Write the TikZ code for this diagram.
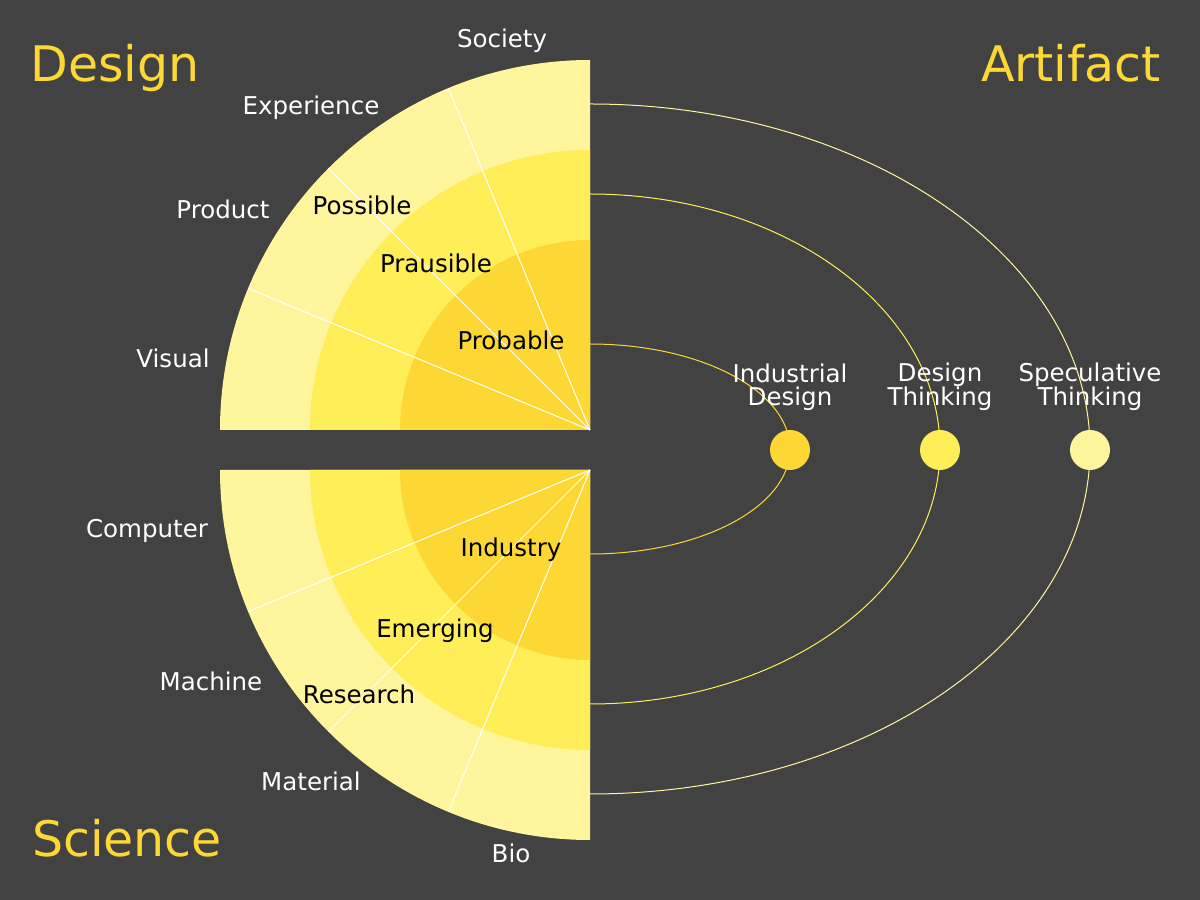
\documentclass[tikz,border=0pt]{standalone}
\usepackage{fontspec}
\setmainfont{DejaVu Sans}
\definecolor{bg}{HTML}{424242}
\definecolor{ringout}{HTML}{FFF59D}
\definecolor{ringmid}{HTML}{FFEE58}
\definecolor{ringin}{HTML}{FDD835}
\begin{document}
\begin{tikzpicture}[x=1pt,y=1pt,
  title/.style={text=ringin, font=\fontsize{49}{49}\selectfont, inner sep=0pt, anchor=base},
  outlabel/.style={text=white, font=\fontsize{24.5}{24.5}\selectfont, inner sep=0pt, anchor=base},
  inlabel/.style={text=black, font=\fontsize{24.5}{24.5}\selectfont, inner sep=0pt, anchor=base},
  dotlabel/.style={text=white, font=\fontsize{24.5}{23.5}\selectfont, inner sep=0pt, anchor=base, align=center},
  ray/.style={draw=white, line width=1pt},
  orbit/.style={line width=1pt},
  dot/.style={circle, minimum size=40pt, inner sep=0pt}]
\fill[bg] (0,0) rectangle (1200,900);
\useasboundingbox (0,0) rectangle (1200,900);

% upper quarter disc (Design)
\coordinate (dc) at (590,470);
\fill[ringout] (dc) -- ++(90:370) arc[start angle=90,end angle=180,radius=370] -- cycle;
\fill[ringmid] (dc) -- ++(90:280) arc[start angle=90,end angle=180,radius=280] -- cycle;
\fill[ringin]  (dc) -- ++(90:190) arc[start angle=90,end angle=180,radius=190] -- cycle;
\foreach \a in {112.5,135,157.5} \draw[ray] (dc) -- ++(\a:370);

% lower quarter disc (Science)
\coordinate (sc) at (590,430);
\fill[ringout] (sc) -- ++(180:370) arc[start angle=180,end angle=270,radius=370] -- cycle;
\fill[ringmid] (sc) -- ++(180:280) arc[start angle=180,end angle=270,radius=280] -- cycle;
\fill[ringin]  (sc) -- ++(180:190) arc[start angle=180,end angle=270,radius=190] -- cycle;
\foreach \a in {202.5,225,247.5} \draw[ray] (sc) -- ++(\a:370);

% orbits
\coordinate (o1) at (590,556);
\coordinate (o2) at (590,706);
\coordinate (o3) at (590,796);
\draw[orbit, ringin]  (o1) arc[start angle=90,end angle=-90,x radius=200,y radius=105];
\draw[orbit, ringmid] (o2) arc[start angle=90,end angle=-90,x radius=350,y radius=255];
\draw[orbit, ringout] (o3) arc[start angle=90,end angle=-90,x radius=500,y radius=345];

% dots
\node[dot, fill=ringin]  (d1) at (790,450) {};
\node[dot, fill=ringmid] (d2) at (940,450) {};
\node[dot, fill=ringout] (d3) at (1090,450) {};

% base anchor sits on the last line of a two-line label
\node[dotlabel] (l1) at (790,494) {Industrial\\Design};
\node[dotlabel] (l2) at (940,494) {Design\\Thinking};
\node[dotlabel] (l3) at (1090,494) {Speculative\\Thinking};

% titles
\node[title] (tdesign)   at (115,818) {Design};
\node[title] (tartifact) at (1071,818) {Artifact};
\node[title] (tscience)  at (127,43) {Science};

% design fields
\node[outlabel] (society)    at (502,852) {Society};
\node[outlabel] (experience) at (311,785) {Experience};
\node[outlabel] (product)    at (223,681) {Product};
\node[outlabel] (visual)     at (173,532) {Visual};
\node[inlabel] (possible)  at (362,685) {Possible};
\node[inlabel] (prausible) at (436,627) {Prausible};
\node[inlabel] (probable)  at (511,550) {Probable};

% science fields
\node[outlabel] (computer) at (147,362) {Computer};
\node[outlabel] (machine)  at (211,209) {Machine};
\node[outlabel] (material) at (311,109) {Material};
\node[outlabel] (bio)      at (511,37) {Bio};
\node[inlabel] (industry) at (511,343) {Industry};
\node[inlabel] (emerging) at (435,262) {Emerging};
\node[inlabel] (research) at (359,196) {Research};
\end{tikzpicture}
\end{document}
